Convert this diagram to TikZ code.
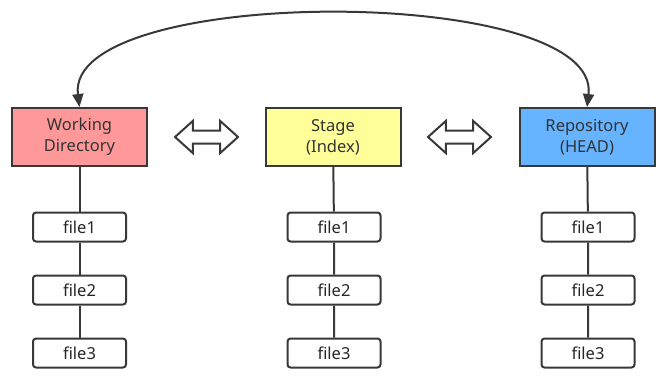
\documentclass[tikz,border=0pt]{standalone}
\usepackage{fontspec}
\setmainfont{Noto Sans}
\usetikzlibrary{arrows.meta,shapes.arrows,positioning}
\definecolor{rojizo}{HTML}{FF9999}
\definecolor{amarillo}{HTML}{FFFF99}
\definecolor{azul}{HTML}{66B3FF}
\definecolor{trazo}{HTML}{383838}
\tikzset{
  caja/.style={draw=trazo,line width=2pt,minimum width=135pt,minimum height=58pt,align=center,text=black!80,font=\fontsize{16.5}{21}\selectfont},
  archivo/.style={draw=trazo,line width=2pt,rounded corners=3pt,minimum width=93pt,minimum height=29pt,text=black!85,font=\fontsize{16.5}{19}\selectfont},
  flechota/.style={double arrow,draw=trazo,line width=2pt,fill=white,minimum height=63pt,inner sep=5.5pt,double arrow head extend=9.5pt,double arrow tip angle=84},
  linea/.style={draw=trazo,line width=2pt}
}
\begin{document}
\begin{tikzpicture}[x=1pt,y=-1pt]
\useasboundingbox (0,0) rectangle (666,378);
\node[caja,fill=rojizo] (wd) at (79.5,137) {Working\\Directory};
\node[caja,fill=amarillo] (st) at (333,137) {Stage\\(Index)};
\node[caja,fill=azul] (re) at (587,137) {Repository\\(HEAD)};
\node[flechota] (f1) at (206.5,137) {};
\node[flechota] (f2) at (459.5,137) {};
\foreach \c/\x in {wd/79.5,st/334,re/588}{
  \foreach \i/\y in {1/227,2/290,3/353}
    \node[archivo] (\c\i) at (\x,\y) {file\i};
  \draw[linea] (\c) -- (\c1) (\c1) -- (\c2) (\c2) -- (\c3);
}
\draw[linea,{Triangle[length=13pt,width=11pt]}-{Triangle[length=13pt,width=11pt]}]
  (wd.north) .. controls (64,-16) and (602,-16) .. (re.north);
\end{tikzpicture}
\end{document}
